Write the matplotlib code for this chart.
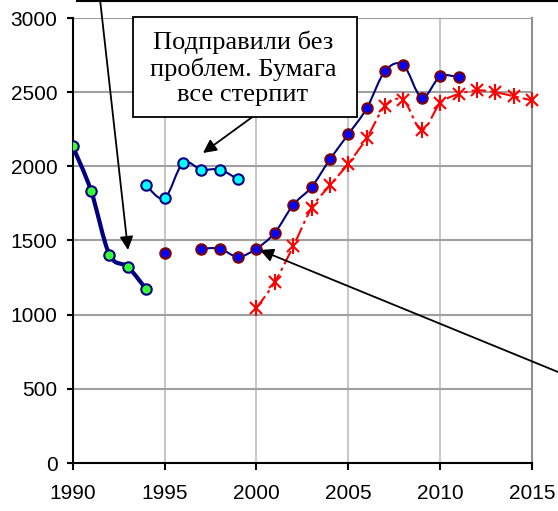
import numpy as np
import matplotlib
matplotlib.use("Agg")
import matplotlib.pyplot as plt
from matplotlib.path import Path
from matplotlib.patches import PathPatch, Rectangle

plt.rcParams['font.family'] = ['Liberation Sans', 'DejaVu Sans']

# dati
anni_a = [1990, 1991, 1992, 1993, 1994]
valori_a = [2135, 1835, 1405, 1322, 1172]

anni_b = [1994, 1995, 1996, 1997, 1998, 1999]
valori_b = [1872, 1785, 2022, 1978, 1978, 1912]

anni_c1 = [1995]
valori_c1 = [1418]
anni_c = [1997, 1998, 1999, 2000, 2001, 2002, 2003, 2004, 2005, 2006, 2007, 2008, 2009, 2010, 2011]
valori_c = [1445, 1445, 1390, 1445, 1552, 1740, 1860, 2047, 2216, 2390, 2642, 2682, 2464, 2606, 2601]

anni_d = [2000, 2001, 2002, 2003, 2004, 2005, 2006, 2007, 2008, 2009, 2010, 2011, 2012, 2013, 2014, 2015]
valori_d = [1045, 1220, 1460, 1718, 1872, 2018, 2190, 2405, 2445, 2245, 2425, 2487, 2512, 2500, 2472, 2445]

testo_box = "Подправили без\nпроблем. Бумага\nвсе стерпит"


def linea_smussata(ax, x, y, **kw):
    # curva tipo Excel: Bezier cubiche (Catmull-Rom) disegnate da matplotlib
    x = np.asarray(x, float)
    y = np.asarray(y, float)
    px = np.concatenate([[x[0]], x, [x[-1]]])
    py = np.concatenate([[y[0]], y, [y[-1]]])
    verts = [(x[0], y[0])]
    codes = [Path.MOVETO]
    for i in range(1, len(x)):
        c1 = (px[i] + (px[i + 1] - px[i - 1]) / 6, py[i] + (py[i + 1] - py[i - 1]) / 6)
        c2 = (px[i + 1] - (px[i + 2] - px[i]) / 6, py[i + 1] - (py[i + 2] - py[i]) / 6)
        verts += [c1, c2, (x[i], y[i])]
        codes += [Path.CURVE4] * 3
    ax.add_patch(PathPatch(Path(verts, codes), fill=False, **kw))


fig = plt.figure(figsize=(5.58, 5.11), dpi=100)
ax = fig.add_axes([72.7 / 558, 1 - 463 / 511, 459.3 / 558, 445 / 511])

ax.set_xlim(1990, 2015)
ax.set_ylim(0, 3000)
ax.set_xticks(range(1990, 2016, 5))
ax.set_yticks(range(0, 3001, 500))

# griglia
for xv in range(1995, 2015, 5):
    ax.axvline(xv, color="#c8c8c8", lw=1.5, zorder=0)
for yv in range(500, 3001, 500):
    ax.axhline(yv, color="#a0a0a0", lw=1.5, zorder=0)

ax.spines["top"].set_visible(False)
ax.spines["right"].set_color("#909090")
ax.spines["right"].set_linewidth(1.5)
ax.spines["left"].set_linewidth(1.5)
ax.spines["bottom"].set_linewidth(1.5)
ax.tick_params(direction="out", length=5, width=1.5, labelsize=15)
ax.tick_params(axis="x", pad=10)
ax.tick_params(axis="y", length=4, pad=7)

# serie
linea_smussata(ax, anni_a, valori_a, edgecolor="#000080", lw=3, zorder=3)
ax.plot(anni_a, valori_a, ls="none", marker="o", ms=7.5, mfc="#33ff33", mec="#000080", mew=1.5, zorder=4)

linea_smussata(ax, anni_b, valori_b, edgecolor="#000080", lw=1.5, zorder=3)
ax.plot(anni_b, valori_b, ls="none", marker="o", ms=7.5, mfc="#00ffff", mec="#000080", mew=1.5, zorder=4)

ax.plot(anni_c1, valori_c1, ls="none", marker="o", ms=7.5, mfc="#0000ff", mec="#800000", mew=1.5, zorder=4)
linea_smussata(ax, anni_c, valori_c, edgecolor="#000080", lw=1.5, zorder=3)
ax.plot(anni_c, valori_c, ls="none", marker="o", ms=7.5, mfc="#0000ff", mec="#800000", mew=1.5, zorder=4)

linea_smussata(ax, anni_d, valori_d, edgecolor="red", lw=1.5, linestyle=(0, (7, 2, 1.5, 2)), zorder=3)
ax.plot(anni_d, valori_d, ls="none", marker="x", ms=9, mec="red", mew=1.5, zorder=4, clip_on=False)
ax.plot(anni_d, valori_d, ls="none", marker="|", ms=11, mec="red", mew=1.5, zorder=4, clip_on=False)

# riquadro di testo e frecce
ax.add_patch(Rectangle((1993.28, 2332), 12.2, 675, fc="white", ec="black", lw=1.3, zorder=6, clip_on=False))
ax.text(1999.27, 2663, testo_box, family="Liberation Serif", fontsize=19, ha="center", va="center",
        linespacing=1.17, zorder=7)
ax.annotate("", xy=(1997.09, 2090), xytext=(1999.77, 2332),
            arrowprops=dict(arrowstyle="-|>", color="black", lw=1.3, mutation_scale=20,
                            shrinkA=0, shrinkB=0), zorder=5)
ax.annotate("", xy=(1993.01, 1436), xytext=(1991.43, 3189), annotation_clip=False,
            arrowprops=dict(arrowstyle="-|>", color="black", lw=1.3, mutation_scale=20,
                            shrinkA=0, shrinkB=0), zorder=5)
ax.annotate("", xy=(2000.19, 1436), xytext=(2016.96, 586), annotation_clip=False,
            arrowprops=dict(arrowstyle="-|>", color="black", lw=1.3, mutation_scale=20,
                            shrinkA=0, shrinkB=0), zorder=5)

# bordo del riquadro superiore tagliato
fig.add_artist(Rectangle((77 / 558, 1 - 1.5 / 511), 600 / 558, 100 / 511, transform=fig.transFigure,
                         fc="white", ec="black", lw=1.5, zorder=10))

fig.savefig("out.png", dpi=100)
